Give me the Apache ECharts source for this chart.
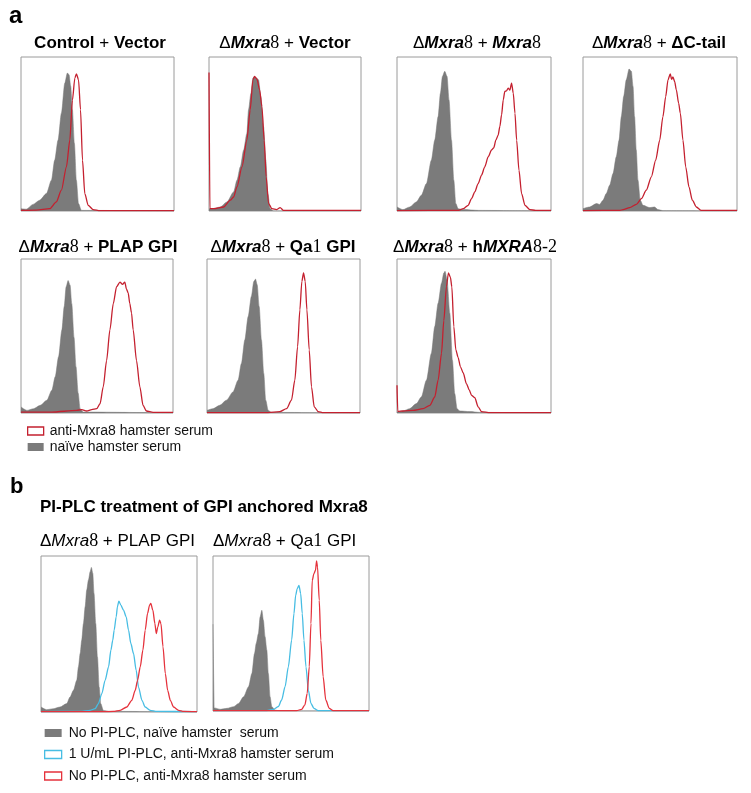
<!DOCTYPE html>
<html><head><meta charset="utf-8">
<script src="https://cdn.jsdelivr.net/npm/echarts@6/dist/echarts.min.js"></script>
<style>html,body{margin:0;padding:0;background:#fff}#c{width:751px;height:793px}</style>
</head><body><div id="c"></div>
<script>
// ---- data: [fluorescence position (0-100 of axis), % of max count] ----
const grayControlVector = [[0,1.5],[3.5,1.2],[7.9,4.3],[12.2,7],[16.6,11.3],[19.9,20],[22,33],[24.2,46],[26.4,63.5],[28.6,83],[30.3,89.6],[31.4,88.5],[32.5,81],[33.6,65.7],[34.9,44],[36.2,20],[37.6,4.8],[39.5,0.4],[100,0]];
const redControlVector = [[0,0.4],[10,0.6],[18.8,1.5],[23.1,5.9],[26.4,13.5],[29.7,28.7],[31.9,46],[33.6,72],[35.2,86.3],[36.2,89.1],[37.6,85.2],[38.9,65.7],[40.2,33],[41.7,11.3],[43.9,3.7],[47.2,0.9],[51.5,0.2],[100,0.2]];
const grayKoVector = [[0,1.5],[3.1,1.5],[7.4,2.6],[11.8,5.9],[16.2,12.4],[18.4,20],[20.6,28.7],[22.8,39.6],[24.9,50.4],[26,65.7],[27.6,76.5],[28.9,86.3],[29.8,87.4],[31.1,86.3],[32.6,85.2],[34.1,74.3],[35.9,54.8],[37.4,33],[38.7,11.3],[40.3,1.5],[42.5,0],[100,0]];
const redKoVector = [[0,90],[0.6,1.5],[3.1,1.5],[9.6,2.6],[14,7],[16.2,9.1],[18.4,15.7],[21.7,28.7],[24.9,46],[27.1,65.7],[28.9,85.2],[30,87.4],[31.5,85.7],[33.3,78.7],[34.8,67.8],[36.3,46],[37.6,22.2],[39.2,4.8],[41.4,1.5],[44.6,0.9],[46.8,2.2],[49,0.4],[100,0.4]];
const grayKoMxra8 = [[0,2.6],[3.9,0.9],[8.2,2.6],[12.6,5.9],[15.8,10.2],[19.1,17.8],[22.3,33],[24.5,46],[26.7,61.3],[28.2,76.5],[29.5,87.4],[31,90.7],[32.5,87.4],[33.8,72],[35.4,46],[36.9,20],[38.2,4.8],[39.7,1.5],[43,0.9],[53,0.4],[100,0]];
const redKoMxra8 = [[0,0.3],[40,0.4],[43,1.5],[46.2,3.7],[48.4,8],[50.5,12.4],[52.7,17.8],[54.9,23.3],[57,28.7],[59.2,35.2],[61.4,39.6],[62.8,41],[64.2,46],[65.7,49.3],[66.8,55],[67.9,62.4],[69,72.2],[70,77.6],[71.1,78],[72.2,79.8],[73.3,78.5],[74.4,83],[75.5,76.5],[76.6,63.5],[77.7,46],[79.2,26.5],[80.9,11.3],[83.1,3.7],[86.3,0.9],[90,0.4],[100,0.4]];
const grayKoCtail = [[0,1.5],[4.3,2.6],[8.7,4.8],[10.8,4.3],[13,7],[15.1,11.3],[17.3,16.7],[19.5,24.3],[21.6,35.2],[23.4,46],[24.9,61.3],[26.4,74.3],[28.1,85.2],[29.9,92.2],[31.4,90.7],[32.5,80.9],[33.5,61.3],[34.6,39.6],[35.7,20],[37.2,7],[39,3.7],[43.3,2.2],[46.5,2.6],[48.7,0.9],[51.9,0.2],[100,0]];
const redKoCtail = [[0,0.3],[24,0.4],[26,0.9],[30.3,2.2],[34.6,4.3],[37.9,8],[41.1,13.5],[44.4,22.2],[47.2,33],[49.8,46],[51.9,61.3],[53.7,74.3],[55.2,85.2],[56.7,89.1],[57.5,85.5],[58.4,87],[59.5,84.1],[60.6,78.7],[62.1,70],[63.2,63.5],[64.9,46],[66.7,28.7],[68.8,15.7],[71,7],[73.6,2.6],[76.8,0.4],[100,0.4]];
const grayKoPlap = [[0,3.9],[3.9,1.7],[8.3,2.8],[12.7,5],[17,8.3],[20.3,14.8],[22.5,23.5],[24.7,36.5],[26.9,53.9],[28.4,69],[29.7,82],[31,86],[32.3,83],[33.4,71],[34.9,49],[36.2,30],[37.6,13],[38.9,2.8],[41,0.6],[100,0]];
const redKoPlap = [[0,0.6],[20,0.6],[36.7,1.7],[40,2.2],[43.2,1.3],[46.5,2.2],[49.8,2.8],[52,6],[54.1,17],[56.3,34],[58.5,54],[60.7,71],[62.9,82],[65.1,85],[66.8,83.5],[68.3,85],[69.4,80.4],[70.5,78],[71.6,71],[72.7,65],[73.8,54],[76,34],[78.2,17],[80.3,5],[82.5,1.3],[86.9,0.4],[100,0.4]];
const grayKoQa1 = [[0,1.7],[3.9,2.8],[8.3,5],[12.7,8.3],[17,13.7],[20.3,21.3],[22.5,32.2],[24.7,47.4],[26.9,62.6],[29,75.7],[30.6,85.4],[31.7,87],[32.8,83.3],[34.1,69.1],[35.6,47.4],[37.1,25.7],[38.4,8.3],[40,1.7],[42.1,0.4],[100,0]];
const redKoQa1 = [[0,0.3],[40,0.3],[47.6,0.9],[52,2.8],[55.2,8.3],[57.4,21.3],[59.2,43],[60.7,67],[62,85.4],[63.1,91],[64.2,85.4],[65.3,67],[66.8,41],[68.3,17],[70.1,4],[72.7,0.9],[76,0.2],[100,0.2]];
const grayKoHuman = [[0,0.6],[3.9,1.3],[8.2,2.8],[12.6,6.1],[15.8,10.4],[19.1,21.3],[22.3,38.7],[24.5,56.1],[26.7,71.3],[28.9,84.3],[30.4,90.9],[31.2,92],[32.5,86.5],[34.3,64.8],[36,34.3],[37.5,12.6],[39,2.8],[40.8,1.3],[47.3,0.9],[53.8,0.4],[100,0]];
const redKoHuman = [[0,18],[0.5,1],[3.9,1.3],[10.4,1.7],[16.9,2.8],[21.3,5],[24.5,10.4],[26.7,21.3],[28.9,38.7],[30.4,60],[32.1,82],[33.4,91],[34.7,88],[35.6,82],[36.9,56],[38.2,41],[39.7,36],[41.2,30],[43,26],[45.1,19],[46.9,15],[48.4,11.5],[50.5,10],[52.7,4],[54.9,0.9],[60.3,0.2],[100,0.2]];
const grayPlcPlap = [[0,3.2],[3.6,1.5],[7.9,2.1],[12.2,3.2],[16.5,5.4],[18.6,9.6],[20.8,13.9],[22.9,20.3],[24,28.9],[25.1,37.5],[26.1,46],[27.2,56.7],[28.3,67.5],[29.3,78.2],[30.4,84.6],[31.5,89.9],[32.3,92.7],[33.2,88.9],[34,76],[35.1,56.7],[36.2,35.3],[37.3,16],[38.3,5.4],[40,1],[44.3,0.4],[100,0]];
const cyanPlcPlap = [[0,0.2],[25.1,0.4],[31.5,1.1],[34.7,2.1],[36.8,5.4],[39,11.8],[41.1,20.3],[43.3,28.9],[44.8,39.6],[46,46],[46.9,52.5],[48.2,61],[49,67.5],[49.9,71.1],[51.2,68.5],[52.9,65.3],[54.6,61],[56.1,52.5],[57.6,43.9],[59.3,37.5],[61,26.8],[62.5,16],[64.7,7.5],[66.8,3.2],[70,1.1],[74.3,0.4],[100,0.2]];
const redPlcPlap = [[0,0.2],[40,0.2],[46.5,0.4],[50.7,1.1],[55,3.2],[58.2,7.5],[60.4,13.9],[61.9,20.3],[63.6,28.9],[65.3,39.6],[66.8,52.5],[68.3,63.2],[69.6,68.5],[70.4,69.6],[71.7,65.3],[73,56.7],[73.9,50.3],[74.9,54.6],[76,58.9],[76.9,56.7],[78.2,41.8],[79.7,24.6],[81.2,13.9],[82.9,7.5],[85,3.2],[88.2,1.1],[91.4,0.4],[100,0.2]];
const grayPlcQa1 = [[0,56],[0.8,2],[4.7,1.1],[8.9,1.7],[13.2,2.8],[16.4,4.9],[19.6,9.2],[22.8,15.7],[24.9,24.2],[26.6,37.1],[27.7,43.6],[29.1,50],[30.2,60.7],[31.3,65],[32.3,58.6],[33.4,47.9],[34.5,39.3],[35.5,24.2],[36.6,9.2],[37.7,2.8],[39.8,0.6],[43,0],[100,0]];
const cyanPlcQa1 = [[0,0.2],[34.5,0.2],[38.7,1.1],[41.9,2.8],[44,7.1],[46.2,15.7],[48.3,28.5],[50.4,45.7],[51.9,62.9],[53,74.7],[54,79],[55.1,81.1],[56.2,75.8],[57.2,62.9],[58.3,45.7],[59.6,28.5],[61.1,13.5],[62.8,4.9],[64.7,1.7],[67.4,0.2],[100,0.2]];
const redPlcQa1 = [[0,0.2],[53.6,0.2],[56.8,1.1],[58.9,3.9],[60.4,11.4],[61.7,28.5],[62.8,56.4],[63.6,84.3],[64.7,88.6],[65.7,90.8],[66.4,96.8],[67,92.9],[68.1,71.5],[69.1,45.7],[70.6,22.1],[72.3,7.1],[74.5,1.7],[77,0.2],[100,0.2]];

const panelATitles = [
  '{b|Control}{p| + }{b|Vector}',
  '{d|Δ}{bi|Mxra}{s|8}{p| + }{b|Vector}',
  '{d|Δ}{bi|Mxra}{s|8}{p| + }{bi|Mxra}{s|8}',
  '{d|Δ}{bi|Mxra}{s|8}{p| + }{b|ΔC-tail}',
  '{d|Δ}{bi|Mxra}{s|8}{p| + }{b|PLAP GPI}',
  '{d|Δ}{bi|Mxra}{s|8}{p| + }{b|Qa}{s|1}{b| GPI}',
  '{d|Δ}{bi|Mxra}{s|8}{p| + }{b|h}{bi|MXRA}{s|8-2}'
];
const panelBTitles = [
  '{d|Δ}{i|Mxra}{s|8}{p| + PLAP GPI}',
  '{d|Δ}{i|Mxra}{s|8}{p| + Qa}{s|1}{p| GPI}'
];
const legendANames = ['anti-Mxra8 hamster serum', 'naïve hamster serum'];
const legendBNames = ['No PI-PLC, naïve hamster  serum', '1 U/mL PI-PLC, anti-Mxra8 hamster serum', 'No PI-PLC, anti-Mxra8 hamster serum'];

// ---- layout ----
const SANS = 'Liberation Sans, Arial, sans-serif';
const SERIF = 'Liberation Serif, Times New Roman, serif';
const GRAY = '#7b7b7b', RED_A = '#c4202f', RED_B = '#e5323c', CYAN = '#47bde3';

const boxes = [
  {l:21, t:57, w:153, h:154, tx:100, ty:43},
  {l:209,t:57, w:152, h:154, tx:285, ty:43},
  {l:397,t:57, w:154, h:154, tx:477, ty:43},
  {l:583,t:57, w:154, h:154, tx:659, ty:43},
  {l:21, t:259,w:152, h:154, tx:98,  ty:247},
  {l:207,t:259,w:153, h:154, tx:283, ty:247},
  {l:397,t:259,w:154, h:154, tx:475, ty:247},
  {l:41, t:556,w:156, h:156, tx:40,  ty:541},
  {l:213,t:556,w:156, h:155, tx:213, ty:541}
];
const panelData = [
  [grayControlVector, redControlVector],
  [grayKoVector, redKoVector],
  [grayKoMxra8, redKoMxra8],
  [grayKoCtail, redKoCtail],
  [grayKoPlap, redKoPlap],
  [grayKoQa1, redKoQa1],
  [grayKoHuman, redKoHuman],
  [grayPlcPlap, cyanPlcPlap, redPlcPlap],
  [grayPlcQa1, cyanPlcQa1, redPlcQa1]
];

const richA = {
  b: {fontFamily: SANS, fontWeight: 'bold', fontStyle: 'normal', fontSize: 17, color: '#000'},
  bi:{fontFamily: SANS, fontWeight: 'bold', fontStyle: 'italic', fontSize: 17, color: '#000'},
  d: {fontFamily: SANS, fontWeight: 'normal', fontStyle: 'normal', fontSize: 17, color: '#000'},
  p: {fontFamily: SANS, fontWeight: 'normal', fontStyle: 'normal', fontSize: 17, color: '#000'},
  s: {fontFamily: SERIF, fontWeight: 'normal', fontStyle: 'normal', fontSize: 18, color: '#000'}
};
const richB = {
  i: {fontFamily: SANS, fontWeight: 'normal', fontStyle: 'italic', fontSize: 17, color: '#000'},
  d: {fontFamily: SANS, fontWeight: 'normal', fontStyle: 'normal', fontSize: 17, color: '#000'},
  p: {fontFamily: SANS, fontWeight: 'normal', fontStyle: 'normal', fontSize: 17, color: '#000'},
  s: {fontFamily: SERIF, fontWeight: 'normal', fontStyle: 'normal', fontSize: 18, color: '#000'}
};

const grid = [], xAxis = [], yAxis = [], series = [], title = [];
boxes.forEach((b, i) => {
  grid.push({left: b.l, top: b.t, width: b.w, height: b.h, show: true, borderColor: '#9a9a9a', borderWidth: 1, backgroundColor: 'transparent'});
  xAxis.push({type: 'value', gridIndex: i, min: 0, max: 100, show: false});
  yAxis.push({type: 'value', gridIndex: i, min: 0, max: 100, show: false});
  const d = panelData[i];
  const isB = i >= 7;
  const names = isB ? [legendBNames[0], legendBNames[1], legendBNames[2]] : [legendANames[1], legendANames[0]];
  const colors = isB ? [GRAY, CYAN, RED_B] : [GRAY, RED_A];
  d.forEach((arr, k) => {
    const s = {
      type: 'line', name: names[k], xAxisIndex: i, yAxisIndex: i, data: arr,
      showSymbol: false, symbol: 'none', smooth: 0.25, smoothMonotone: 'x', silent: true,
      color: colors[k], lineStyle: {color: colors[k], width: k === 0 ? 0.5 : 1.3}, z: k === 0 ? 2 : 3
    };
    if (k === 0) s.areaStyle = {color: GRAY, opacity: 1};
    series.push(s);
  });
  if (!isB) {
    title.push({text: panelATitles[i], left: b.tx, top: b.ty, textAlign: 'center', textVerticalAlign: 'middle', padding: 0, textStyle: {fontWeight: 'normal', rich: richA}});
  } else {
    title.push({text: panelBTitles[i - 7], left: b.tx, top: b.ty, textAlign: 'left', textVerticalAlign: 'middle', padding: 0, textStyle: {fontWeight: 'normal', rich: richB}});
  }
});
title.push({text: 'a', left: 9, top: 16, textAlign: 'left', textVerticalAlign: 'middle', padding: 0, textStyle: {fontFamily: SANS, fontWeight: 'bold', fontSize: 24, color: '#000'}});
title.push({text: 'b', left: 10, top: 487, textAlign: 'left', textVerticalAlign: 'middle', padding: 0, textStyle: {fontFamily: SANS, fontWeight: 'bold', fontSize: 22, color: '#000'}});
title.push({text: 'PI-PLC treatment of GPI anchored Mxra8', left: 40, top: 507, textAlign: 'left', textVerticalAlign: 'middle', padding: 0, textStyle: {fontFamily: SANS, fontWeight: 'bold', fontSize: 17, color: '#000'}});

const legend = [
  {orient: 'vertical', left: 27, top: 424, padding: 0, itemWidth: 16, itemHeight: 8, itemGap: 2, selectedMode: false,
   textStyle: {fontFamily: SANS, fontSize: 14, lineHeight: 14, color: '#111', padding: [0,0,0,1]},
   data: [
     {name: legendANames[0], icon: 'rect', itemStyle: {color: '#fff', borderColor: RED_A, borderWidth: 1.3}},
     {name: legendANames[1], icon: 'rect', itemStyle: {color: GRAY, borderWidth: 0}}
   ]},
  {orient: 'vertical', left: 44, top: 726, padding: 0, itemWidth: 17, itemHeight: 8, itemGap: 7.5, selectedMode: false,
   textStyle: {fontFamily: SANS, fontSize: 14, lineHeight: 14, color: '#111', padding: [0,0,0,2]},
   data: [
     {name: legendBNames[0], icon: 'rect', itemStyle: {color: GRAY, borderWidth: 0}},
     {name: legendBNames[1], icon: 'rect', itemStyle: {color: '#fff', borderColor: CYAN, borderWidth: 1.3}},
     {name: legendBNames[2], icon: 'rect', itemStyle: {color: '#fff', borderColor: RED_B, borderWidth: 1.3}}
   ]}
];

const chart = echarts.init(document.getElementById('c'), null, {renderer: 'canvas'});
chart.setOption({animation: false, backgroundColor: '#fff', title, legend, grid, xAxis, yAxis, series, tooltip: {show: false}});
</script></body></html>
